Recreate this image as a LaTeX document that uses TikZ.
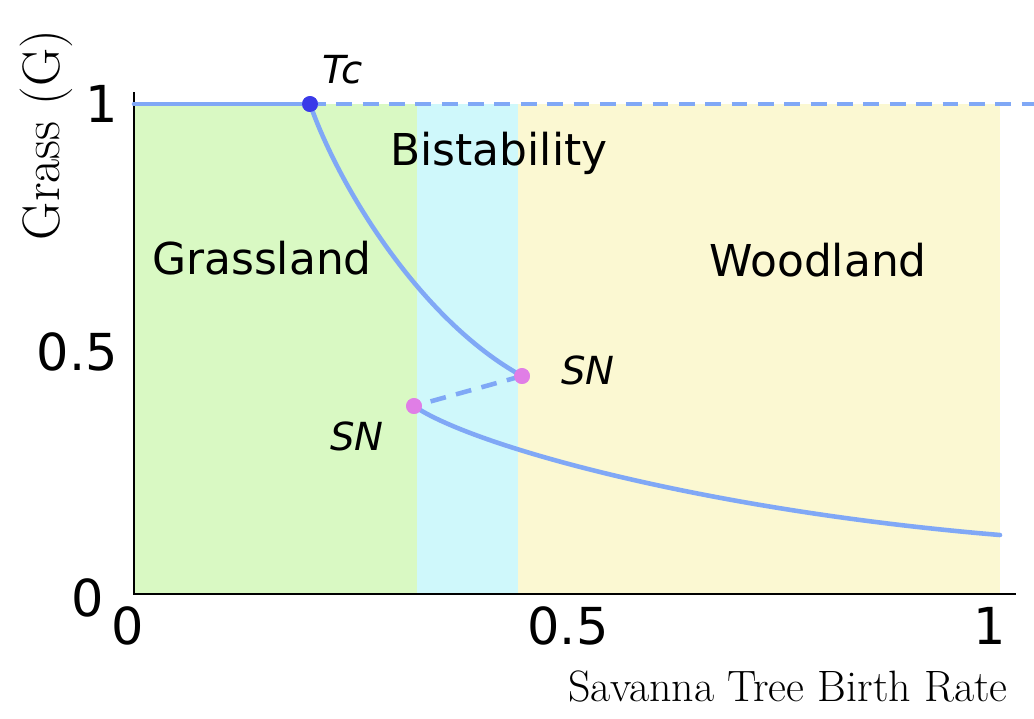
\documentclass[tikz,border=0pt]{standalone}
\usepackage{fontspec}
\newfontfamily\sansf{DejaVu Sans}
\begin{document}
\begin{tikzpicture}[x=0.02cm,y=-0.02cm,
  branch/.style={draw=lineblue,line width=2.6pt,line cap=round},
  dashbranch/.style={branch,dash pattern=on 9pt off 6pt,line cap=butt},
  tick/.style={font=\sansf\fontsize{29}{32}\selectfont},
  region/.style={font=\sansf\fontsize{25}{29}\selectfont},
  pointlab/.style={font=\sansf\itshape\fontsize{22}{26}\selectfont},
  dot/.style={circle,inner sep=0pt,minimum size=9pt}]
\definecolor{lineblue}{HTML}{80A8F6}
\definecolor{gfill}{HTML}{D9F9C3}
\definecolor{cfill}{HTML}{CFF8FB}
\definecolor{yfill}{HTML}{FBF8D2}
\definecolor{tcblue}{HTML}{3A3AE8}
\definecolor{snpink}{HTML}{E07EE6}
\useasboundingbox (0,0) rectangle (1034,718);
\fill[gfill] (134,104) rectangle (417,594);
\fill[cfill] (417,104) rectangle (518,594);
\fill[yfill] (518,104) rectangle (1000,594);
\draw[line width=1pt] (134,92) -- (134,594) -- (1016,594);
\coordinate (x0) at (134,104);
\node[dot,fill=tcblue] (tc) at (310,104) {};
\node[dot,fill=snpink] (sn1) at (522,376) {};
\node[dot,fill=snpink] (sn2) at (414,406) {};
\coordinate (xend) at (1034,104);
\coordinate (lend) at (1000,535);
\draw[branch] (x0) -- (tc.center);
\draw[dashbranch] (tc.center) -- (xend);
\draw[branch] (tc.center) .. controls (338,185) and (420,320) .. (sn1.center);
\draw[dashbranch] (sn1.center) -- (sn2.center);
\draw[branch] (sn2.center) .. controls (470,445) and (700,510) .. (lend);
\node[dot,fill=tcblue] at (tc) {};
\node[dot,fill=snpink] at (sn1) {};
\node[dot,fill=snpink] at (sn2) {};
\node[tick,anchor=east] (t1) at (124,104) {1};
\node[tick,anchor=east] (t05) at (124,352) {0.5};
\node[tick,anchor=east] (t0) at (110,598) {0};
\node[tick] (b0) at (128,626) {0};
\node[tick] (b05) at (568,626) {0.5};
\node[tick] (b1) at (990,626) {1};
\node[region] (gl) at (262,258) {Grassland};
\node[region] (bi) at (499,153) {Bistability};
\node[region] (wl) at (818,260) {Woodland};
\node[pointlab] (tcl) at (343,70) {Tc};
\node[pointlab] (sn1l) at (588,370) {SN};
\node[pointlab] (sn2l) at (357,436) {SN};
\node[font=\fontsize{25}{28}\selectfont,anchor=east] (xl) at (1014,686) {Savanna Tree Birth Rate};
\node[font=\fontsize{30}{34}\selectfont,rotate=90] (yl) at (46,135) {Grass (G)};
\end{tikzpicture}
\end{document}
